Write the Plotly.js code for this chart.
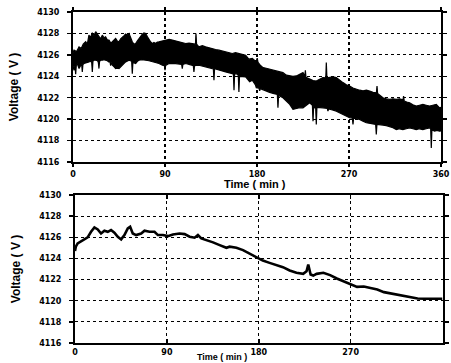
<!DOCTYPE html>
<html>
<head>
<meta charset="utf-8">
<script src="https://cdn.plot.ly/plotly-3.0.1.min.js"></script>
<style>html,body{margin:0;padding:0;background:#fff;}#chart{width:451px;height:363px;}</style>
</head>
<body>
<div id="chart"></div>
<script>
// ---- Top panel: noisy voltage record, upper and lower envelope of the black band ----
const noisyUpperT = [0, 1, 3.5, 5.9, 8, 10, 12.4, 14, 15.6, 17,
  18.9, 20.5, 22.2, 24, 25.4, 27, 28.7, 30.3, 31.9, 33.5,
  35.2, 37, 38.5, 40, 41.7, 43.3, 45, 46.6, 48.2, 50,
  51.5, 53, 54.8, 56.4, 58, 59.6, 61.3, 63, 64.5, 66,
  67.8, 69.4, 71.1, 72.7, 74.3, 76, 77.6, 79.2, 80.8, 82.5,
  84.1, 87.4, 90.6, 94, 97.1, 100.4, 103.7, 107, 110.2, 113.5,
  116.7, 119.8, 120.3, 120.9, 123.2, 126.5, 129.7, 133, 136.3, 139.5,
  142.8, 146, 149.3, 152.5, 155.8, 159, 162.3, 165.6, 168.9, 172,
  175.4, 178, 179.6, 180.2, 181, 183.5, 185.9, 189, 192.4, 195.7,
  198.9, 202, 205.4, 208.7, 212, 215.2, 218.5, 221.7, 225, 226.8,
  227.3, 227.9, 231.5, 234.8, 238, 241.3, 244.5, 247.3, 247.8, 248.4,
  251.1, 254.3, 257.6, 260.9, 264.1, 267.4, 270.6, 273.9, 277.1, 280.4,
  283.7, 287, 290.2, 293.5, 296.8, 297.4, 298, 300.5, 303.2, 306.5,
  309.7, 313, 316.3, 319.5, 322.8, 323.4, 324, 326.5, 329.3, 332.5,
  335.8, 339, 342.3, 345.5, 348.9, 352, 355.4, 358.6, 360];
const noisyUpperV = [4126.2, 4126.44, 4126.3, 4126.75, 4126.6, 4127.0, 4127.22, 4127.0, 4127.84, 4127.6,
  4128.06, 4127.8, 4128.16, 4127.9, 4127.69, 4127.5, 4127.84, 4127.6, 4127.69, 4127.4,
  4127.38, 4127.1, 4127.22, 4127.4, 4127.53, 4127.3, 4127.22, 4127.5, 4127.69, 4127.8,
  4127.94, 4127.85, 4128.0, 4127.6, 4127.22, 4127.0, 4127.06, 4127.3, 4127.53, 4127.7,
  4127.94, 4128.05, 4128.0, 4127.7, 4127.38, 4127.2, 4127.06, 4127.15, 4127.06, 4127.2,
  4127.22, 4127.3, 4127.31, 4127.45, 4127.38, 4127.3, 4127.28, 4127.15, 4127.06, 4127.1,
  4127.06, 4127.0, 4128.0, 4127.0, 4126.75, 4126.85, 4126.75, 4126.65, 4126.59, 4126.5,
  4126.44, 4126.35, 4126.28, 4126.2, 4126.13, 4126.2, 4126.13, 4126.0, 4125.97, 4125.6,
  4125.66, 4125.45, 4125.5, 4125.7, 4125.3, 4125.0, 4124.81, 4124.75, 4124.66, 4124.55,
  4124.5, 4124.4, 4124.34, 4124.1, 4124.03, 4124.0, 4124.03, 4124.2, 4124.34, 4124.0,
  4124.56, 4123.9, 4123.72, 4123.6, 4123.56, 4123.7, 4123.88, 4123.85, 4125.28, 4123.85,
  4123.88, 4123.95, 4123.88, 4123.6, 4123.41, 4123.2, 4123.09, 4122.9, 4122.78, 4122.7,
  4122.63, 4122.7, 4122.63, 4122.5, 4122.45, 4123.09, 4122.4, 4122.2, 4122.0, 4121.9,
  4121.84, 4121.9, 4121.84, 4121.9, 4121.8, 4122.16, 4121.7, 4121.6, 4121.53, 4121.35,
  4121.22, 4121.3, 4121.38, 4121.3, 4121.22, 4121.3, 4121.38, 4121.06, 4121.1];

const noisyLowerT = [0, 1, 2.0, 2.6, 3.2, 4.2, 5.9, 7.5, 8.5, 9.1,
  9.7, 10.8, 12.4, 14, 15.6, 17, 18.3, 18.9, 19.5, 20.5,
  22.2, 24, 24.8, 25.4, 26, 27.1, 28.7, 30.3, 31.9, 33.5,
  35.2, 36.2, 36.8, 37.4, 38.5, 40, 41.7, 43.3, 45, 46.6,
  48.2, 50, 51.5, 53, 54.8, 57.4, 58, 58.6, 61.3, 63,
  64.5, 67.8, 71.1, 74.3, 77.6, 80.8, 84.1, 87.4, 89.4, 90,
  90.6, 93.9, 97.1, 100.4, 103.7, 106.3, 106.9, 107.5, 110.2, 113.5,
  116.7, 117.7, 118.3, 118.9, 123.2, 126.5, 129.7, 133, 136.3, 137.3,
  137.9, 138.5, 142.8, 146, 149.3, 152.5, 155.8, 156.9, 157.5, 158.1,
  159.7, 161.7, 162.3, 162.9, 165.6, 168.9, 172.8, 175.4, 178.6, 179.3,
  181.9, 182.6, 183.2, 186, 189.1, 192.4, 195.7, 198.9, 199.9, 200.5,
  201.1, 205.4, 208.7, 212, 215.2, 218.5, 221.7, 225, 228.3, 231.5,
  234.2, 234.8, 235.4, 236.4, 237.4, 238, 238.6, 241.3, 244.5, 248.8,
  249.4, 250, 253.8, 257.6, 260.9, 264.1, 267.4, 270.6, 273.3, 273.9,
  274.5, 277.1, 280.4, 283.7, 286.9, 290.2, 293.5, 296.1, 296.7, 297.3,
  300, 303.2, 306.5, 309.7, 313, 316.3, 319.5, 322.8, 326, 329.3,
  332.5, 335.8, 339, 342.3, 345.5, 348.9, 349.9, 350.5, 351.1, 353.8,
  356, 358.6, 360];
const noisyLowerV = [4125.0, 4124.56, 4125.0, 4124.2, 4125.0, 4125.19, 4124.72, 4125.0, 4125.1, 4124.41,
  4125.1, 4125.19, 4125.19, 4125.3, 4125.34, 4125.4, 4125.3, 4124.41, 4125.4, 4125.5,
  4125.5, 4125.45, 4125.3, 4124.72, 4125.4, 4125.5, 4125.5, 4125.55, 4125.5, 4125.45,
  4125.34, 4125.4, 4125.0, 4125.3, 4125.03, 4124.9, 4124.72, 4124.75, 4124.72, 4124.9,
  4125.03, 4125.2, 4125.34, 4125.45, 4125.5, 4125.4, 4124.25, 4125.3, 4125.19, 4125.4,
  4125.5, 4125.55, 4125.5, 4125.45, 4125.34, 4125.3, 4125.19, 4125.03, 4125.0, 4124.56,
  4125.0, 4125.19, 4125.2, 4125.19, 4125.15, 4125.1, 4124.72, 4125.1, 4125.19, 4125.1,
  4125.03, 4125.0, 4124.41, 4125.0, 4125.03, 4124.95, 4124.88, 4124.8, 4124.72, 4124.7,
  4123.63, 4124.7, 4124.56, 4124.5, 4124.41, 4124.3, 4124.25, 4124.2, 4122.69, 4124.2,
  4124.25, 4124.1, 4122.53, 4124.0, 4123.94, 4123.94, 4123.5, 4123.63, 4123.16, 4122.94,
  4122.9, 4122.63, 4122.85, 4122.7, 4122.63, 4122.5, 4122.4, 4122.31, 4122.3, 4121.06,
  4122.2, 4122.0, 4121.7, 4121.38, 4120.91, 4121.0, 4121.06, 4121.06, 4121.3, 4121.53,
  4121.3, 4119.81, 4121.2, 4121.06, 4121.1, 4119.5, 4121.1, 4121.1, 4121.06, 4121.0,
  4120.75, 4120.95, 4120.85, 4120.75, 4120.6, 4120.44, 4120.3, 4120.13, 4120.1, 4119.5,
  4120.1, 4120.05, 4119.97, 4119.8, 4119.66, 4119.6, 4119.55, 4119.5, 4118.56, 4119.5,
  4119.5, 4119.45, 4119.4, 4119.34, 4119.2, 4119.03, 4119.1, 4119.03, 4119.1, 4119.19,
  4119.1, 4119.03, 4119.1, 4119.03, 4119.1, 4119.19, 4119.1, 4117.31, 4119.0, 4118.88,
  4118.95, 4118.88, 4118.9];

// ---- Bottom panel: smoothed voltage record ----
const smoothT = [0, 0.8, 2.6, 7.5, 12.4, 15.7, 19.0, 22.3, 25.5, 28.8,
  32.1, 35.3, 38.6, 41.9, 45.2, 48.4, 51.7, 54.0, 56.6, 59.9,
  64.8, 68.1, 73.0, 77.9, 81.2, 86.1, 91.0, 95.9, 102.4, 107.4,
  112.3, 117.2, 120.4, 123.7, 128.6, 135.2, 141.7, 148.3, 151.5, 158.1,
  164.6, 171.0, 177.5, 184.0, 190.6, 197.1, 203.7, 210.3, 216.9, 223.5,
  226.8, 228.5, 230.8, 233.4, 236.7, 243.3, 249.9, 256.5, 263.1, 269.7,
  276.3, 282.9, 289.5, 296.1, 302.6, 309.2, 315.8, 322.4, 329.0, 335.6,
  342.2, 348.8, 355.4, 360];
const smoothV = [4124.7, 4125.11, 4125.42, 4125.67, 4125.99, 4126.52, 4126.93, 4126.74, 4126.36, 4126.62,
  4126.52, 4126.68, 4126.43, 4126.05, 4125.80, 4126.21, 4126.84, 4126.99, 4126.36, 4126.21,
  4126.36, 4126.62, 4126.52, 4126.52, 4126.21, 4126.21, 4126.11, 4126.27, 4126.36, 4126.30,
  4126.05, 4125.96, 4126.21, 4125.89, 4125.74, 4125.52, 4125.26, 4125.01, 4125.11, 4125.01,
  4124.79, 4124.46, 4124.1, 4123.80, 4123.58, 4123.36, 4123.17, 4122.86, 4122.64, 4122.54,
  4122.79, 4123.43, 4122.48, 4122.38, 4122.54, 4122.64, 4122.42, 4122.10, 4121.85, 4121.60,
  4121.31, 4121.34, 4121.22, 4121.06, 4120.81, 4120.68, 4120.59, 4120.43, 4120.27, 4120.21,
  4120.18, 4120.21, 4120.18, 4120.18];

// ---- Axis ticks and labels ----
const xTicks = [0, 90, 180, 270, 360];
const yTicks = [4116, 4118, 4120, 4122, 4124, 4126, 4128, 4130];
const xTitle = 'Time ( min )';
const yTitle = 'Voltage ( V )';

// Band polygon: upper envelope forward, lower envelope backward
const bandX = noisyUpperT.concat(noisyLowerT.slice().reverse());
const bandY = noisyUpperV.concat(noisyLowerV.slice().reverse());

const traces = [
  {x: bandX, y: bandY, xaxis: 'x', yaxis: 'y', type: 'scatter', mode: 'lines',
   fill: 'toself', fillcolor: '#000', line: {color: '#000', width: 1.2}, hoverinfo: 'skip'},
  {x: smoothT, y: smoothV, xaxis: 'x2', yaxis: 'y2', type: 'scatter', mode: 'lines',
   line: {color: '#000', width: 2.6}, hoverinfo: 'skip'}
];

const tickFont = {family: 'DejaVu Sans', size: 8, color: '#000', weight: 'bold'};
const titleFont = {family: 'Liberation Sans', size: 11, color: '#000', weight: 'bold'};

function xAx(domain, anchor, tickDir, tickLen) {
  return {domain: domain, anchor: anchor, range: [0, 360], tickvals: xTicks, ticktext: xTicks.map(String),
    showgrid: true, gridcolor: '#000', griddash: 'dot', gridwidth: 1.2, zeroline: false,
    showline: true, linecolor: '#000', linewidth: 2, mirror: 'ticks', ticks: tickDir, ticklen: tickLen,
    tickwidth: 1.5, tickcolor: '#000', tickfont: tickFont, ticklabelstandoff: 0,
    automargin: false, fixedrange: true};
}
function yAx(domain, anchor) {
  return {domain: domain, anchor: anchor, range: [4116, 4130], tickvals: yTicks, ticktext: yTicks.map(String),
    showgrid: true, gridcolor: '#000', griddash: 'dot', gridwidth: 1.2, zeroline: false,
    showline: true, linecolor: '#000', linewidth: 2, mirror: 'ticks', ticks: 'outside', ticklen: 4,
    tickwidth: 1.5, tickcolor: '#000', tickfont: tickFont, ticklabelstandoff: 6,
    title: {text: yTitle, font: {family: 'Liberation Sans', size: 12, color: '#000', weight: 'bold'}, standoff: 16},
    automargin: false, fixedrange: true};
}

const layout = {
  width: 451, height: 363,
  margin: {l: 0, r: 0, t: 0, b: 0},
  paper_bgcolor: '#fff', plot_bgcolor: '#fff',
  showlegend: false,
  xaxis: xAx([73/451, 441/451], 'y', 'outside', 3),
  yaxis: yAx([1 - 162/363, 1 - 12/363], 'x'),
  xaxis2: xAx([75/451, 442.5/451], 'y2', 'inside', 4),
  yaxis2: yAx([1 - 343/363, 1 - 195/363], 'x2'),
  annotations: [
    {text: xTitle, xref: 'paper', yref: 'paper', x: 255/451, y: 1 - 184/363, xanchor: 'center', yanchor: 'middle',
     showarrow: false, font: titleFont, borderpad: 0},
    {text: xTitle, xref: 'paper', yref: 'paper', x: 248/451, y: 0, xanchor: 'right', yanchor: 'bottom',
     showarrow: false, font: {family: 'Liberation Sans', size: 9, color: '#000', weight: 'bold'}, borderpad: 0}
  ]
};

Plotly.newPlot('chart', traces, layout, {displayModeBar: false, staticPlot: true});
</script>
</body>
</html>
